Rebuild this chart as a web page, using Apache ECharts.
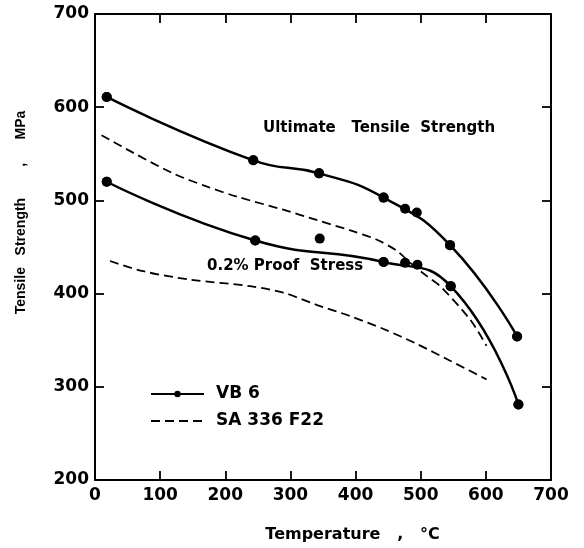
<!DOCTYPE html>
<html>
<head>
<meta charset="utf-8">
<script src="https://cdn.jsdelivr.net/npm/echarts@6/dist/echarts.min.js"></script>
<style>
  html, body { margin: 0; padding: 0; background: #ffffff; }
  #chart { width: 584px; height: 548px; }
</style>
</head>
<body>
<div id="chart"></div>
<script>
// ---- Data ----
// VB 6 : ultimate tensile strength, measured points
const vbUtsTemp = [18, 243, 344, 443, 476, 494, 545, 648];
const vbUtsVal  = [611, 543, 529, 503, 491, 487, 452, 354];
// VB 6 : ultimate tensile strength, fitted-curve nodes
const vbUtsCurveTemp = [18, 243, 344, 443, 545, 648];
const vbUtsCurveVal  = [611, 543, 529, 503, 452, 354];
// VB 6 : 0.2 % proof stress, measured points
const vbPsTemp = [18, 246, 345, 443, 476, 495, 546, 650];
const vbPsVal  = [520, 457, 459, 434, 433, 431, 408, 281];
// VB 6 : 0.2 % proof stress, fitted-curve nodes
const vbPsCurveTemp = [18, 246, 443, 546, 650];
const vbPsCurveVal  = [520, 457, 434, 408, 281];
// SA 336 F22 : ultimate tensile strength (dashed)
const saUtsTemp = [10, 59, 120, 171, 218, 289, 340, 391, 432, 463, 484, 509, 530, 576, 601];
const saUtsVal  = [570, 551, 529, 515, 504, 490, 479, 468, 458, 446, 433, 419, 408, 372, 344];
// SA 336 F22 : 0.2 % proof stress (dashed)
const saPsTemp = [23, 74, 146, 238, 289, 340, 391, 443, 494, 545, 601];
const saPsVal  = [435, 424, 415, 408, 401, 388, 376, 362, 346, 328, 308];

const xTicks = [0, 100, 200, 300, 400, 500, 600, 700];
const yTicks = [200, 300, 400, 500, 600, 700];
const legendNames = ['VB 6', 'SA 336 F22'];

const zip = (a, b) => a.map((v, i) => [v, b[i]]);

const tickFont = { fontFamily: 'DejaVu Sans', fontWeight: 'bold', fontSize: 17, color: '#000' };
const axisLine = { show: true, onZero: false, lineStyle: { color: '#000', width: 2 } };
const tickIn = { show: true, inside: true, length: 9, lineStyle: { color: '#000', width: 1.8 } };

const chart = echarts.init(document.getElementById('chart'), null, { renderer: 'canvas' });

const solidLine = { color: '#000', width: 2.5 };
const dashLine = { color: '#000', width: 1.8, type: [9, 5] };

chart.setOption({
  backgroundColor: '#ffffff',
  animation: false,
  grid: { left: 95, right: 33, top: 14, bottom: 67, containLabel: false },
  xAxis: [
    {
      type: 'value', min: xTicks[0], max: xTicks[xTicks.length - 1], interval: 100,
      position: 'bottom',
      axisLine: axisLine, axisTick: tickIn, splitLine: { show: false },
      axisLabel: Object.assign({ margin: 7 }, tickFont),
      name: 'Temperature   ,   °C', nameLocation: 'middle', nameGap: 47,
      nameTextStyle: { fontFamily: 'DejaVu Sans', fontWeight: 'bold', fontSize: 16, color: '#000', padding: [0, 0, 0, 59] }
    },
    {
      type: 'value', min: xTicks[0], max: xTicks[xTicks.length - 1], interval: 100,
      position: 'top',
      axisLine: axisLine, axisTick: tickIn, splitLine: { show: false },
      axisLabel: { show: false }
    }
  ],
  yAxis: [
    {
      type: 'value', min: yTicks[0], max: yTicks[yTicks.length - 1], interval: 100,
      position: 'left',
      axisLine: axisLine, axisTick: tickIn, splitLine: { show: false },
      axisLabel: Object.assign({ margin: 6 }, tickFont),
      name: 'Tensile   Strength        ,      MPa', nameLocation: 'middle', nameGap: 67,
      nameTextStyle: { fontFamily: 'Liberation Sans', fontWeight: 'bold', fontSize: 14, color: '#000', padding: [0, 0, 0, 69] }
    },
    {
      type: 'value', min: yTicks[0], max: yTicks[yTicks.length - 1], interval: 100,
      position: 'right',
      axisLine: axisLine, axisTick: tickIn, splitLine: { show: false },
      axisLabel: { show: false }
    }
  ],
  legend: {
    data: [
      { name: legendNames[0] },
      { name: legendNames[1], itemStyle: { opacity: 0 } }
    ],
    orient: 'vertical',
    left: 145, top: 380,
    itemWidth: 53, itemHeight: 8, itemGap: 9,
    textStyle: { fontFamily: 'DejaVu Sans', fontWeight: 'bold', fontSize: 17, color: '#000', lineHeight: 18, padding: [0, 0, 0, 7] }
  },
  graphic: [
    { type: 'text', left: 263, top: 121,
      style: { text: 'Ultimate   Tensile  Strength', font: 'bold 15px "DejaVu Sans"', fill: '#000' } },
    { type: 'text', left: 207, top: 259,
      style: { text: '0.2% Proof  Stress', font: 'bold 15px "DejaVu Sans"', fill: '#000' } }
  ],
  series: [
    {
      name: 'VB 6', type: 'line', data: zip(vbUtsCurveTemp, vbUtsCurveVal),
      smooth: 0.5, symbol: 'circle', symbolSize: 10, showSymbol: true,
      lineStyle: solidLine, itemStyle: { color: '#000' }, z: 3
    },
    {
      name: 'VB 6', type: 'line', data: zip(vbPsCurveTemp, vbPsCurveVal),
      smooth: 0.5, symbol: 'circle', symbolSize: 10, showSymbol: true,
      lineStyle: solidLine, itemStyle: { color: '#000' }, z: 3
    },
    {
      name: 'VB 6 UTS points', type: 'scatter', data: zip(vbUtsTemp, vbUtsVal),
      symbol: 'circle', symbolSize: 10, itemStyle: { color: '#000', opacity: 1 }, z: 4
    },
    {
      name: 'VB 6 proof points', type: 'scatter', data: zip(vbPsTemp, vbPsVal),
      symbol: 'circle', symbolSize: 10, itemStyle: { color: '#000', opacity: 1 }, z: 4
    },
    {
      name: 'SA 336 F22', type: 'line', data: zip(saUtsTemp, saUtsVal),
      smooth: 0.3, symbol: 'none', showSymbol: false,
      lineStyle: dashLine, itemStyle: { color: '#000' }
    },
    {
      name: 'SA 336 F22', type: 'line', data: zip(saPsTemp, saPsVal),
      smooth: 0.3, symbol: 'none', showSymbol: false,
      lineStyle: dashLine, itemStyle: { color: '#000' }
    }
  ]
});
</script>
</body>
</html>
